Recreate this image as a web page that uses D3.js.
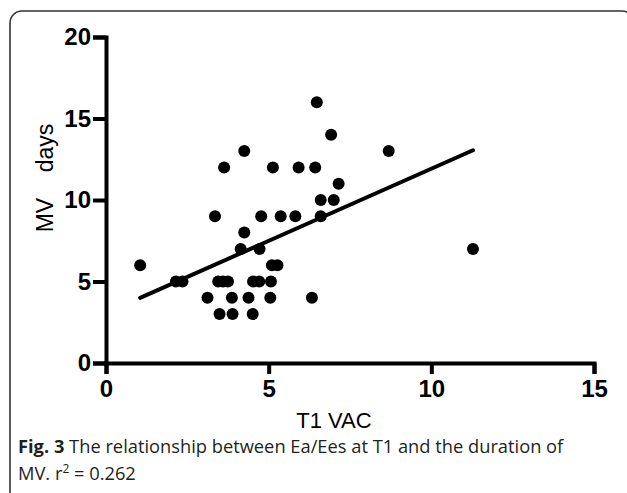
<!DOCTYPE html>
<html>
<head>
<meta charset="utf-8">
<script src="https://cdn.jsdelivr.net/npm/d3@7"></script>
<style>
  body { margin: 0; background: #fff; }
  svg { display: block; }
</style>
</head>
<body>
<div id="chart"></div>
<script>
// Ea/Ees at T1 (T1 VAC) vs duration of MV (days)
const vacValues = [1.05, 2.15, 2.35, 3.12, 3.35, 3.45, 3.6, 3.75, 3.49, 3.63,
                   3.87, 3.89, 4.14, 4.25, 4.25, 4.38, 4.51, 4.52, 4.71, 4.72,
                   4.77, 5.05, 5.07, 5.1, 5.27, 5.13, 5.37, 5.82, 5.92, 6.33,
                   6.43, 6.48, 6.6, 6.6, 6.92, 7.0, 7.15, 8.69, 11.28];
const mvDays    = [6, 5, 5, 4, 9, 5, 5, 5, 3, 12,
                   4, 3, 7, 8, 13, 4, 3, 5, 5, 7,
                   9, 4, 5, 6, 6, 12, 9, 9, 12, 4,
                   12, 16, 9, 10, 14, 10, 11, 13, 7];

// linear fit
const fitSlope = 0.885;
const fitIntercept = 3.07;

const xTicks = [0, 5, 10, 15];
const yTicks = [0, 5, 10, 15, 20];

const width = 627;
const height = 493;
const margin = { top: 37, right: 33, bottom: 130, left: 106 };
const plotW = width - margin.left - margin.right;
const plotH = height - margin.top - margin.bottom;

const svg = d3.select("#chart")
    .append("svg")
    .attr("width", width)
    .attr("height", height);

// frame round the figure
svg.append("rect")
    .attr("x", 10)
    .attr("y", 11)
    .attr("width", 624)
    .attr("height", 540)
    .attr("rx", 12)
    .attr("fill", "none")
    .attr("stroke", "#333")
    .attr("stroke-width", 1.6);

const g = svg.append("g")
    .attr("transform", `translate(${margin.left},${margin.top})`);

const x = d3.scaleLinear().domain([0, 15]).range([0, plotW]);
const y = d3.scaleLinear().domain([0, 20]).range([plotH, 0]);

// axes
const xAxis = g.append("g")
    .attr("transform", `translate(0,${plotH})`)
    .call(d3.axisBottom(x).tickValues(xTicks).tickSize(11).tickPadding(6));

const yAxis = g.append("g")
    .call(d3.axisLeft(y).tickValues(yTicks).tickSize(13).tickPadding(2));

[xAxis, yAxis].forEach(a => {
    a.select(".domain").attr("stroke", "#000").attr("stroke-width", 4);
    a.selectAll(".tick line").attr("stroke", "#000").attr("stroke-width", 4);
    a.selectAll(".tick text")
        .attr("fill", "#000")
        .style("font-family", "'Liberation Sans', Arial, sans-serif")
        .style("font-weight", "bold")
        .style("font-size", "24px");
});

// regression line
const fitX = d3.extent(vacValues);
g.append("line")
    .attr("x1", x(fitX[0]))
    .attr("y1", y(fitSlope * fitX[0] + fitIntercept))
    .attr("x2", x(fitX[1]))
    .attr("y2", y(fitSlope * fitX[1] + fitIntercept))
    .attr("stroke", "#000")
    .attr("stroke-width", 4)
    .attr("stroke-linecap", "round");

// points
g.selectAll(".dot")
    .data(vacValues)
    .enter()
    .append("circle")
    .attr("class", "dot")
    .attr("cx", d => x(d))
    .attr("cy", (d, i) => y(mvDays[i]))
    .attr("r", 6)
    .attr("fill", "#000");

// axis titles
svg.append("text")
    .attr("x", 334)
    .attr("y", 428)
    .attr("text-anchor", "middle")
    .style("font-family", "'Liberation Sans', Arial, sans-serif")
    .style("font-size", "22px")
    .text("T1 VAC");

svg.append("text")
    .attr("transform", "translate(53,178) rotate(-90)")
    .attr("text-anchor", "middle")
    .style("font-family", "'Liberation Sans', Arial, sans-serif")
    .style("font-size", "23px")
    .style("white-space", "pre")
    .text("MV    days");

// caption
const caption = svg.append("g")
    .style("font-family", "'Open Sans', sans-serif")
    .style("font-size", "18.3px")
    .attr("fill", "#231f20");

const line1 = caption.append("text").attr("x", 18).attr("y", 453);
line1.append("tspan").style("font-weight", "bold").text("Fig. 3");
line1.append("tspan").text(" The relationship between Ea/Ees at T1 and the duration of");

const line2 = caption.append("text").attr("x", 18).attr("y", 480);
line2.append("tspan").text("MV. r");
line2.append("tspan").attr("dy", -7).style("font-size", "12px").text("2");
line2.append("tspan").attr("dy", 7).text(" = 0.262");
</script>
</body>
</html>
